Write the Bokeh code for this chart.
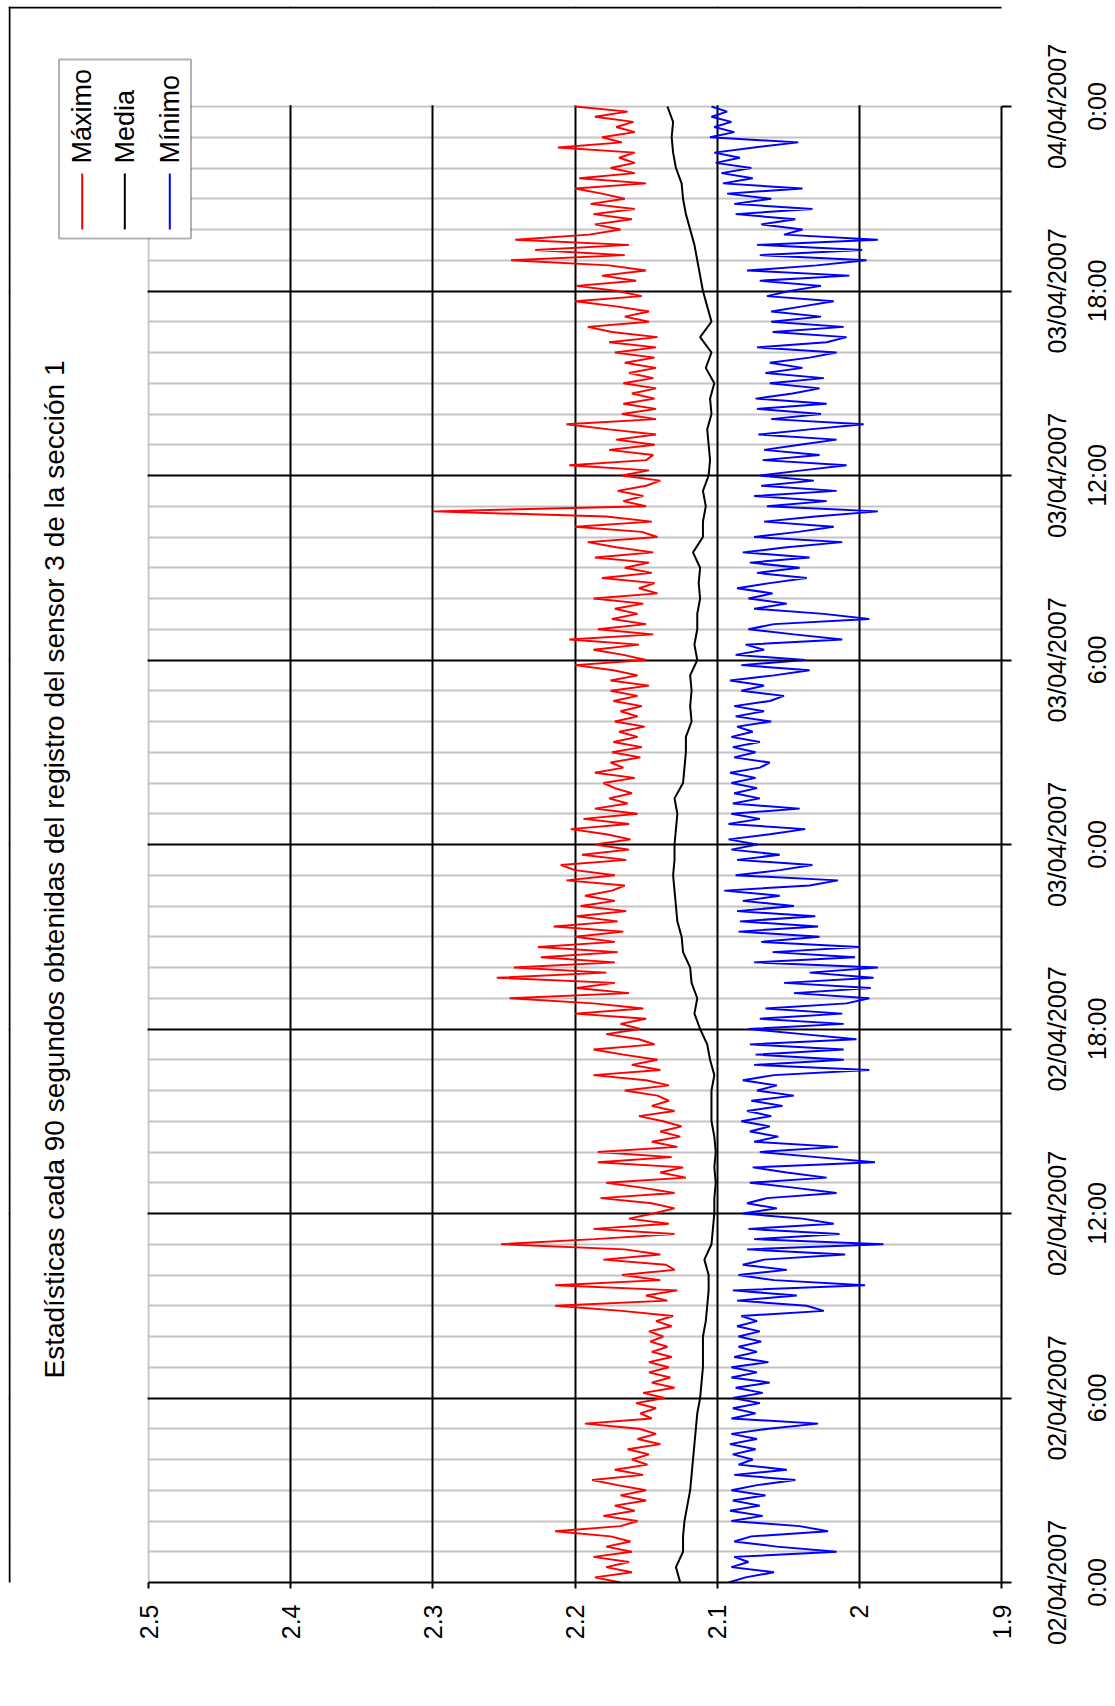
import math
from bokeh.plotting import figure
from bokeh.layouts import row
from bokeh.models import Range1d, FixedTicker, Grid, Label, BoxAnnotation
from bokeh.embed import file_html
from bokeh.resources import INLINE

FONT = "Liberation Sans"

title_text = "Estadísticas cada 90 segundos obtenidas del registro del sensor 3 de la sección 1"
series_names = ["Máximo", "Media", "Mínimo"]
series_colors = ["#ff0000", "#000000", "#0000ff"]

value_ticks = [2.5, 2.4, 2.3, 2.2, 2.1, 2.0, 1.9]
value_labels = ["2.5", "2.4", "2.3", "2.2", "2.1", "2", "1.9"]
time_ticks = [0, 6, 12, 18, 24, 30, 36, 42, 48]
time_labels = ["02/04/2007\n0:00", "02/04/2007\n6:00", "02/04/2007\n12:00", "02/04/2007\n18:00",
               "03/04/2007\n0:00", "03/04/2007\n6:00", "03/04/2007\n12:00", "03/04/2007\n18:00",
               "04/04/2007\n0:00"]

# Máximo, one value every 10 minutes from 02/04/2007 0:00 (hours since start)
maximo = [
    2.168, 2.186, 2.160, 2.178, 2.162, 2.187,
    2.160, 2.178, 2.161, 2.175, 2.214, 2.168,
    2.156, 2.180, 2.158, 2.172, 2.150, 2.168,
    2.150, 2.170, 2.188, 2.152, 2.172, 2.149,
    2.160, 2.148, 2.163, 2.140, 2.156, 2.143,
    2.155, 2.193, 2.146, 2.154, 2.143, 2.157,
    2.137, 2.152, 2.130, 2.146, 2.133, 2.148,
    2.134, 2.148, 2.132, 2.146, 2.135, 2.147,
    2.138, 2.148, 2.132, 2.143, 2.131, 2.167,
    2.214, 2.135, 2.150, 2.128, 2.214, 2.140,
    2.167, 2.130, 2.136, 2.180, 2.140, 2.165,
    2.252, 2.186, 2.130, 2.187, 2.134, 2.162,
    2.145, 2.130, 2.146, 2.182, 2.130, 2.152,
    2.178, 2.122, 2.140, 2.124, 2.184, 2.132,
    2.184, 2.128, 2.146, 2.126, 2.140, 2.125,
    2.138, 2.155, 2.130, 2.146, 2.134, 2.142,
    2.165, 2.134, 2.150, 2.187, 2.140, 2.160,
    2.142, 2.166, 2.187, 2.144, 2.155, 2.178,
    2.154, 2.168, 2.150, 2.200, 2.152, 2.187,
    2.246, 2.162, 2.199, 2.172, 2.255, 2.178,
    2.243, 2.172, 2.224, 2.170, 2.226, 2.172,
    2.200, 2.166, 2.215, 2.170, 2.199, 2.164,
    2.196, 2.172, 2.193, 2.174, 2.165, 2.206,
    2.172, 2.200, 2.210, 2.164, 2.195, 2.162,
    2.186, 2.161, 2.178, 2.203, 2.162, 2.194,
    2.156, 2.186, 2.163, 2.176, 2.160, 2.172,
    2.180, 2.158, 2.186, 2.166, 2.175, 2.154,
    2.174, 2.153, 2.173, 2.156, 2.169, 2.151,
    2.172, 2.156, 2.168, 2.153, 2.173, 2.156,
    2.175, 2.148, 2.175, 2.156, 2.173, 2.200,
    2.150, 2.166, 2.187, 2.155, 2.204, 2.145,
    2.184, 2.150, 2.174, 2.156, 2.172, 2.152,
    2.187, 2.142, 2.155, 2.144, 2.181, 2.146,
    2.165, 2.148, 2.186, 2.145, 2.171, 2.191,
    2.142, 2.153, 2.200, 2.146, 2.178, 2.300,
    2.150, 2.166, 2.152, 2.170, 2.150, 2.140,
    2.167, 2.148, 2.204, 2.150, 2.145, 2.176,
    2.144, 2.171, 2.143, 2.176, 2.206, 2.143,
    2.167, 2.143, 2.166, 2.144, 2.160, 2.143,
    2.166, 2.145, 2.162, 2.143, 2.165, 2.144,
    2.172, 2.143, 2.176, 2.142, 2.174, 2.191,
    2.148, 2.165, 2.148, 2.171, 2.200, 2.153,
    2.170, 2.199, 2.157, 2.181, 2.150, 2.176,
    2.245, 2.165, 2.228, 2.162, 2.242, 2.190,
    2.168, 2.186, 2.160, 2.187, 2.158, 2.189,
    2.165, 2.181, 2.200, 2.150, 2.197, 2.158,
    2.175, 2.158, 2.169, 2.158, 2.212, 2.167,
    2.181, 2.158, 2.171, 2.159, 2.186, 2.163,
    2.200,
]

# Mínimo, one value every 10 minutes
minimo = [
    2.092, 2.080, 2.060, 2.090, 2.078, 2.088,
    2.016, 2.058, 2.088, 2.076, 2.022, 2.042,
    2.090, 2.068, 2.091, 2.070, 2.089, 2.066,
    2.090, 2.072, 2.045, 2.088, 2.051, 2.085,
    2.075, 2.089, 2.073, 2.091, 2.072, 2.090,
    2.064, 2.029, 2.090, 2.073, 2.089, 2.070,
    2.089, 2.068, 2.087, 2.063, 2.090, 2.072,
    2.090, 2.064, 2.088, 2.072, 2.085, 2.069,
    2.085, 2.070, 2.086, 2.072, 2.083, 2.025,
    2.037, 2.086, 2.044, 2.089, 1.996, 2.060,
    2.085, 2.051, 2.082, 2.067, 2.010, 2.079,
    1.983, 2.074, 2.014, 2.078, 2.018, 2.040,
    2.082, 2.058, 2.079, 2.065, 2.016, 2.045,
    2.077, 2.023, 2.051, 2.075, 1.989, 2.030,
    2.070, 2.015, 2.074, 2.057, 2.077, 2.063,
    2.083, 2.062, 2.079, 2.054, 2.076, 2.046,
    2.072, 2.058, 2.082, 2.060, 1.993, 2.074,
    2.011, 2.073, 2.011, 2.077, 2.002, 2.040,
    2.078, 2.011, 2.070, 2.012, 2.066, 2.009,
    1.993, 2.046, 1.992, 2.053, 1.990, 2.035,
    1.987, 2.074, 2.003, 2.061, 2.000, 2.069,
    2.028, 2.085, 2.029, 2.084, 2.031, 2.086,
    2.046, 2.082, 2.056, 2.095, 2.035, 2.015,
    2.087, 2.056, 2.033, 2.086, 2.056, 2.090,
    2.072, 2.092, 2.063, 2.038, 2.092, 2.070,
    2.090, 2.042, 2.089, 2.070, 2.088, 2.072,
    2.090, 2.073, 2.091, 2.070, 2.063, 2.088,
    2.073, 2.089, 2.070, 2.090, 2.075, 2.086,
    2.062, 2.087, 2.067, 2.088, 2.063, 2.053,
    2.083, 2.067, 2.091, 2.060, 2.035, 2.083,
    2.038, 2.087, 2.067, 2.080, 2.012, 2.046,
    2.078, 2.060, 1.993, 2.025, 2.074, 2.051,
    2.078, 2.061, 2.086, 2.063, 2.037, 2.072,
    2.042, 2.077, 2.035, 2.082, 2.051, 2.012,
    2.074, 2.043, 2.018, 2.067, 2.031, 1.987,
    2.065, 2.023, 2.074, 2.016, 2.069, 2.032,
    2.070, 2.040, 2.009, 2.068, 2.028, 2.067,
    2.042, 2.016, 2.071, 2.035, 1.997, 2.062,
    2.027, 2.072, 2.023, 2.073, 2.047, 2.028,
    2.063, 2.025, 2.066, 2.040, 2.063, 2.035,
    2.016, 2.072, 2.023, 2.009, 2.061, 2.011,
    2.062, 2.027, 2.062, 2.040, 2.018, 2.065,
    2.049, 2.027, 2.070, 2.007, 2.079, 2.030,
    1.995, 2.070, 1.998, 2.072, 1.987, 2.053,
    2.040, 2.069, 2.045, 2.087, 2.033, 2.088,
    2.062, 2.093, 2.040, 2.096, 2.075, 2.097,
    2.076, 2.101, 2.084, 2.102, 2.074, 2.043,
    2.105, 2.088, 2.102, 2.090, 2.104, 2.093,
    2.104,
]

# Media, one value every 30 minutes
media = [
    2.126, 2.129, 2.124, 2.124, 2.123, 2.121, 2.119, 2.118, 2.117, 2.116, 2.115, 2.114,
    2.112, 2.111, 2.110, 2.110, 2.110, 2.108, 2.107, 2.106, 2.106, 2.109, 2.104, 2.103,
    2.102, 2.102, 2.101, 2.102, 2.101, 2.102, 2.104, 2.104, 2.104, 2.102, 2.105, 2.107,
    2.112, 2.116, 2.114, 2.118, 2.119, 2.124, 2.125, 2.128, 2.129, 2.130, 2.131, 2.130,
    2.130, 2.129, 2.128, 2.130, 2.124, 2.123, 2.122, 2.122, 2.118, 2.119, 2.118, 2.119,
    2.114, 2.116, 2.114, 2.114, 2.112, 2.113, 2.112, 2.117, 2.110, 2.110, 2.108, 2.110,
    2.106, 2.105, 2.106, 2.107, 2.104, 2.105, 2.102, 2.108, 2.104, 2.112, 2.104, 2.107,
    2.110, 2.112, 2.114, 2.116, 2.119, 2.122, 2.124, 2.125, 2.129, 2.131, 2.132, 2.131,
    2.135,
]

t_max = [i / 6 for i in range(len(maximo))]
t_min = [i / 6 for i in range(len(minimo))]
t_med = [i / 2 for i in range(len(media))]

# ---- page geometry (pixels) ----
H = 1700
CHART_L, CHART_T = 8, 6          # chart-area border (also the Bokeh frame's left/top)
PLOT_L, PLOT_R = 148, 1001       # value 2.5 .. 1.9
PLOT_T, PLOT_B = 106, 1582       # time 48 h .. 0 h
W_MAIN = PLOT_R + 16
LABEL_EDGE = 1110                # right edge of the time-label block
W_LABELS = 1112 - W_MAIN
v_per_px = (2.5 - 1.9) / (PLOT_R - PLOT_L)
h_per_px = 48.0 / (PLOT_B - PLOT_T)
x_start = 2.5 + (PLOT_L - CHART_L) * v_per_px
y_end = 48.0 + (PLOT_T - CHART_T) * h_per_px

def sx(px):  # page x -> frame screen x
    return px - CHART_L
def sy(py):  # page y -> frame screen y (upwards from frame bottom)
    return PLOT_B - py

time_range = Range1d(0, y_end)

p = figure(width=W_MAIN, height=H, x_range=Range1d(x_start, 1.9), y_range=time_range,
           y_axis_location="right", output_backend="svg", toolbar_location=None,
           min_border_left=CHART_L, min_border_right=W_MAIN - PLOT_R,
           min_border_top=CHART_T, min_border_bottom=H - PLOT_B)
p.title.visible = False
p.outline_line_color = None
p.background_fill_color = "white"
p.border_fill_color = "white"
for g in p.grid:
    g.visible = False

# grids: gray hourly lines first, black main lines on top
gray_hours = [h for h in range(1, 49) if h % 6 != 0] + [48]
p.add_layout(Grid(dimension=1, ticker=FixedTicker(ticks=gray_hours), grid_line_color="#c4c4c4", grid_line_width=2))
p.add_layout(Grid(dimension=0, ticker=FixedTicker(ticks=[2.5]), grid_line_color="#c4c4c4", grid_line_width=2))
p.add_layout(Grid(dimension=0, ticker=FixedTicker(ticks=[2.4, 2.3, 2.2, 2.1, 2.0]), grid_line_color="black", grid_line_width=2))
p.add_layout(Grid(dimension=1, ticker=FixedTicker(ticks=[6, 12, 18, 24, 30, 36, 42]), grid_line_color="black", grid_line_width=2))

# value axis (bottom)
xa = p.xaxis[0]
xa.bounds = (1.9, 2.5)
xa.ticker = FixedTicker(ticks=value_ticks)
xa.major_label_overrides = {v: s for v, s in zip(value_ticks, value_labels)}
xa.major_label_orientation = math.pi / 2
xa.minor_tick_line_color = None
xa.axis_line_width = 2
xa.major_tick_line_width = 2
xa.major_tick_in = 0
xa.major_tick_out = 6
xa.major_label_standoff = 16
xa.major_label_text_font = FONT
xa.major_label_text_font_size = "25px"
xa.major_label_text_color = "black"

# time axis (right): line and ticks here, labels on the strip to the right
ya = p.yaxis[0]
ya.bounds = (0, 48)
ya.ticker = FixedTicker(ticks=time_ticks)
ya.major_label_overrides = {v: "" for v in time_ticks}
ya.minor_tick_line_color = None
ya.axis_line_width = 2
ya.major_tick_line_width = 2
ya.major_tick_in = 0
ya.major_tick_out = 10
ya.major_label_standoff = 0

# series
p.line(maximo, t_max, line_color=series_colors[0], line_width=2)
p.line(media, t_med, line_color=series_colors[1], line_width=2)
p.line(minimo, t_min, line_color=series_colors[2], line_width=2)

def box(l, r, t, b, **kw):
    return BoxAnnotation(left=sx(l), right=sx(r), top=sy(t), bottom=sy(b),
                         left_units="screen", right_units="screen", top_units="screen", bottom_units="screen",
                         **kw)

# white margins of the chart area outside the plot area
p.add_layout(box(CHART_L, PLOT_L - 1, CHART_T, PLOT_B, fill_color="white", fill_alpha=1, line_color=None))
p.add_layout(box(CHART_L, PLOT_R + 5, CHART_T, PLOT_T - 1.3, fill_color="white", fill_alpha=1, line_color=None))

# chart-area border (left and top edges)
p.add_layout(box(CHART_L, CHART_L + 2, CHART_T, PLOT_B + 5, fill_color="black", fill_alpha=1, line_color=None))
p.add_layout(box(CHART_L, PLOT_R + 5, CHART_T, CHART_T + 2, fill_color="black", fill_alpha=1, line_color=None))

# title
p.add_layout(Label(x=sx(54), y=sy(869), x_units="screen", y_units="screen", text=title_text,
                   angle=math.pi / 2, text_align="center", text_baseline="middle",
                   text_font=FONT, text_font_size="28px", text_color="black"))

# legend (vertical entries)
p.add_layout(box(58.5, 190.5, 59, 238, fill_color="white", fill_alpha=1, line_color="black", line_width=2))
leg_x = [81.7, 124.3, 169.3]
for name, col, lx in zip(series_names, series_colors, leg_x):
    p.add_layout(box(lx - 1, lx + 1, 173, 229, fill_color=col, fill_alpha=1, line_color=None))
    p.add_layout(Label(x=sx(lx), y=sy(163), x_units="screen", y_units="screen", text=name,
                       angle=math.pi / 2, text_align="left", text_baseline="middle",
                       text_font=FONT, text_font_size="27px", text_color="black"))

# label strip: same time range, its left axis carries the upward-reading date labels
q = figure(width=W_LABELS, height=H, x_range=Range1d(0, 1), y_range=time_range,
           x_axis_location=None, y_axis_location="left", output_backend="svg", toolbar_location=None,
           min_border_left=LABEL_EDGE - W_MAIN, min_border_right=0,
           min_border_top=CHART_T, min_border_bottom=H - PLOT_B)
q.title.visible = False
q.outline_line_color = None
q.background_fill_color = "white"
q.border_fill_color = "white"
for g in q.grid:
    g.visible = False
qa = q.yaxis[0]
qa.ticker = FixedTicker(ticks=time_ticks)
qa.major_label_overrides = {v: s for v, s in zip(time_ticks, time_labels)}
qa.major_label_orientation = "vertical"
qa.axis_line_color = None
qa.major_tick_line_color = None
qa.minor_tick_line_color = None
qa.major_tick_in = 0
qa.major_tick_out = 0
qa.major_label_standoff = 0
qa.major_label_text_font = FONT
qa.major_label_text_font_size = "25px"
qa.major_label_text_color = "black"
qa.major_label_text_line_height = 1.4

layout = row(p, q)
open("out.html", "w").write(file_html(layout, INLINE))
